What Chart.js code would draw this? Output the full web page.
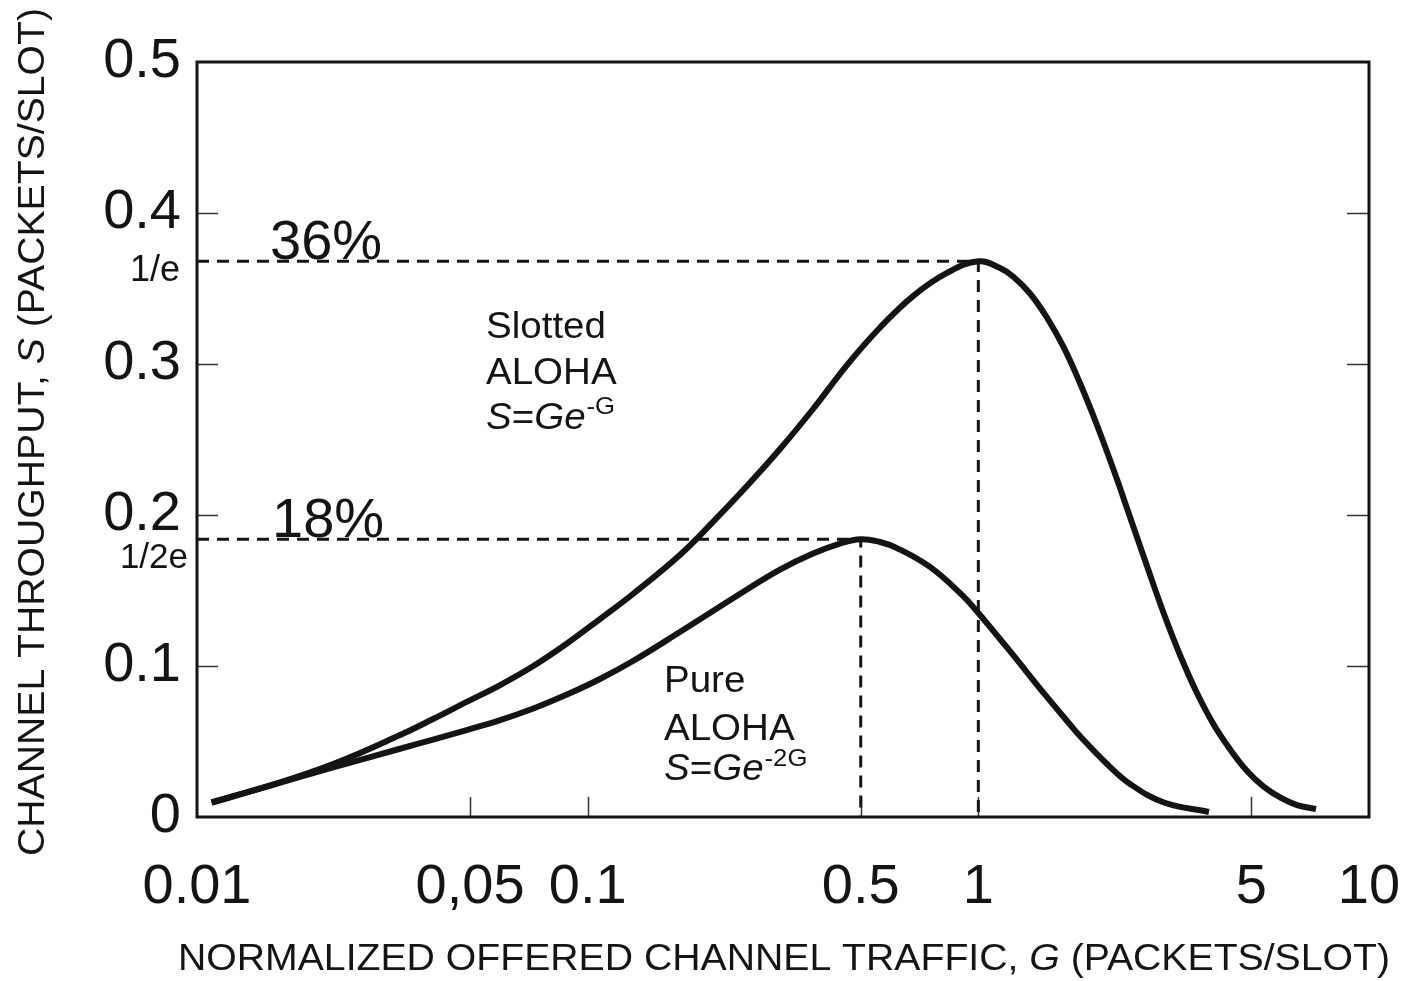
<!DOCTYPE html>
<html>
<head>
<meta charset="utf-8">
<title>ALOHA throughput</title>
<script src="https://cdn.jsdelivr.net/npm/chart.js@4/dist/chart.umd.min.js"></script>
<style>
  html, body { margin: 0; padding: 0; background: #ffffff; }
  canvas { display: block; }
</style>
</head>
<body>
<canvas id="chart" width="1413" height="981"></canvas>
<script>
// Offered traffic G and throughput S, slotted ALOHA
const G_SLOTTED = [0.0109, 0.0151, 0.0223, 0.0331, 0.0402, 0.049, 0.0597, 0.0726, 0.0885, 0.1075,
  0.1306, 0.1722, 0.2093, 0.2557, 0.3107, 0.3775, 0.4611, 0.5603, 0.6806, 0.8315, 1.0,
  1.136, 1.227, 1.356, 1.498, 1.652, 1.82, 2.012, 2.225, 2.445, 2.702,
  2.987, 3.283, 3.628, 4.01, 4.422, 4.873, 5.385, 5.954, 6.543, 7.316];
const S_SLOTTED = [0.0096, 0.0202, 0.0351, 0.0543, 0.0649, 0.0762, 0.0874, 0.1, 0.1149, 0.1311,
  0.1477, 0.1735, 0.1954, 0.2192, 0.2437, 0.2702, 0.2993, 0.3242, 0.345, 0.3603, 0.368,
  0.3636, 0.358, 0.3467, 0.3308, 0.3113, 0.2874, 0.2596, 0.2291, 0.1987, 0.1662,
  0.1344, 0.1073, 0.0821, 0.0609, 0.0444, 0.0305, 0.0199, 0.0126, 0.0079, 0.0053];

// Offered traffic G and throughput S, pure ALOHA
const G_PURE = [0.0109, 0.0151, 0.0223, 0.0331, 0.0402, 0.049, 0.0597, 0.0726, 0.0885, 0.1075,
  0.1306, 0.1722, 0.2093, 0.2557, 0.3107, 0.3775, 0.4424, 0.5, 0.5603, 0.6191,
  0.752, 0.9135, 1.0, 1.136, 1.227, 1.498, 1.687, 1.82, 2.135, 2.445, 2.987, 3.894];
const S_PURE = [0.0096, 0.0202, 0.0328, 0.0452, 0.0513, 0.0576, 0.0642, 0.0719, 0.0811, 0.0914,
  0.1033, 0.1225, 0.1364, 0.1507, 0.1639, 0.1745, 0.1811, 0.184, 0.1821, 0.1781,
  0.1656, 0.1464, 0.1351, 0.1179, 0.1073, 0.0795, 0.0636, 0.0536, 0.0351, 0.0219, 0.0096, 0.0033];

// Maxima: 1/e at G = 1, 1/2e at G = 0.5
const PEAK_SLOTTED = { g: 1, s: 0.368 };
const PEAK_PURE = { g: 0.5, s: 0.184 };

// Axes
const X_MIN = 0.01, X_MAX = 10;
const Y_MIN = 0, Y_MAX = 0.5;
const X_TICKS = [0.01, 0.05, 0.1, 0.5, 1, 5, 10];
const X_TICK_LABELS = ['0.01', '0,05', '0.1', '0.5', '1', '5', '10'];
const Y_TICKS = [0, 0.1, 0.2, 0.3, 0.4, 0.5];
const Y_TICK_LABELS = ['0', '0.1', '0.2', '0.3', '0.4', '0.5'];

const FAMILY = '"Liberation Sans", Arial, Helvetica, sans-serif';
const INK = '#141414';

const toPoints = (xs, ys) => xs.map((x, i) => ({ x: x, y: ys[i] }));
const guide = (peak) => [{ x: X_MIN, y: peak.s }, { x: peak.g, y: peak.s }, { x: peak.g, y: Y_MIN }];

// Text runs with mixed fonts and an optional horizontal stretch sx
function runsWidth(ctx, runs) {
  let w = 0;
  for (const r of runs) { ctx.font = r.font; w += ctx.measureText(r.t).width; }
  return w;
}
function drawRuns(ctx, runs, x, y, sx) {
  let cx = x;
  for (const r of runs) {
    ctx.font = r.font;
    const w = ctx.measureText(r.t).width;
    ctx.save();
    ctx.translate(cx + (r.dx || 0), y - (r.rise || 0));
    ctx.scale(sx, 1);
    ctx.fillText(r.t, 0, 0);
    ctx.restore();
    cx += w * sx + (r.dx || 0);
  }
}
const f = (size, style) => (style ? style + ' ' : '') + size + 'px ' + FAMILY;

const decorations = {
  id: 'decorations',
  beforeDatasetsDraw(chart) {
    const { ctx, chartArea: a, scales: { x, y } } = chart;
    ctx.save();
    // inward tick marks
    ctx.strokeStyle = '#333';
    ctx.lineWidth = 1.5;
    ctx.beginPath();
    Y_TICKS.filter(v => v > Y_MIN && v < Y_MAX).forEach(v => {
      const py = Math.round(y.getPixelForValue(v)) + 0.5;
      ctx.moveTo(a.left, py); ctx.lineTo(a.left + 21, py);
      ctx.moveTo(a.right, py); ctx.lineTo(a.right - 22, py);
    });
    X_TICKS.filter(v => v > X_MIN && v < X_MAX).forEach(v => {
      const px = Math.round(x.getPixelForValue(v)) + 0.5;
      ctx.moveTo(px, a.bottom); ctx.lineTo(px, a.bottom - 20);
    });
    ctx.stroke();
    ctx.restore();
  },
  afterDraw(chart) {
    const { ctx, chartArea: a, scales: { x, y } } = chart;
    ctx.save();
    // frame
    ctx.strokeStyle = INK;
    ctx.lineWidth = 3;
    ctx.strokeRect(a.left, a.top, a.right - a.left, a.bottom - a.top);

    ctx.fillStyle = INK;
    ctx.textBaseline = 'alphabetic';
    ctx.textAlign = 'left';

    // peak percentages
    const ySl = y.getPixelForValue(PEAK_SLOTTED.s);
    const yPu = y.getPixelForValue(PEAK_PURE.s);
    drawRuns(ctx, [{ t: '36%', font: f(56) }], a.left + 73, ySl - 2, 1);
    drawRuns(ctx, [{ t: '18%', font: f(56) }], a.left + 75, yPu - 2, 1);

    // 1/e and 1/2e markers on the throughput axis
    const r1 = [{ t: '1/e', font: f(36) }];
    drawRuns(ctx, r1, a.left - 17 - runsWidth(ctx, r1), ySl + 20, 1);
    const r2 = [{ t: '1/2e', font: f(35) }];
    drawRuns(ctx, r2, a.left - 9 - runsWidth(ctx, r2), yPu + 29, 1);

    // curve annotations
    const SX = 1.07;
    drawRuns(ctx, [{ t: 'Slotted', font: f(36) }], 486, 338, SX);
    drawRuns(ctx, [{ t: 'ALOHA', font: f(36) }], 486, 384, SX);
    drawRuns(ctx, [
      { t: 'S', font: f(36, 'italic') },
      { t: '=', font: f(36) },
      { t: 'Ge', font: f(36, 'italic') },
      { t: '-G', font: f(24), rise: 15, dx: 1 }
    ], 486, 429, SX);

    drawRuns(ctx, [{ t: 'Pure', font: f(36) }], 664, 692, SX);
    drawRuns(ctx, [{ t: 'ALOHA', font: f(36) }], 664, 740, SX);
    drawRuns(ctx, [
      { t: 'S', font: f(36, 'italic') },
      { t: '=', font: f(36) },
      { t: 'Ge', font: f(36, 'italic') },
      { t: '-2G', font: f(24), rise: 14, dx: 1 }
    ], 664, 780, SX);

    // axis titles (condensed lettering)
    const xTitle = [
      { t: 'NORMALIZED OFFERED CHANNEL TRAFFIC, ', font: f(37) },
      { t: 'G', font: f(37, 'italic') },
      { t: ' (PACKETS/SLOT)', font: f(37) }
    ];
    drawRuns(ctx, xTitle, 178, 970, 1212 / runsWidth(ctx, xTitle));

    const yTitle = [
      { t: 'CHANNEL THROUGHPUT, ', font: f(36) },
      { t: 'S', font: f(36, 'italic') },
      { t: ' (PACKETS/SLOT)', font: f(36) }
    ];
    const yScaleX = 848 / runsWidth(ctx, yTitle);
    ctx.save();
    ctx.translate(44, 856);
    ctx.rotate(-Math.PI / 2);
    drawRuns(ctx, yTitle, 0, 0, yScaleX);
    ctx.restore();

    ctx.restore();
  }
};

const curveStyle = {
  borderColor: INK, borderWidth: 6, pointRadius: 0, fill: false,
  tension: 0.4, borderCapStyle: 'butt', borderJoinStyle: 'round'
};
const guideStyle = {
  borderColor: INK, borderWidth: 3, pointRadius: 0, fill: false,
  tension: 0, borderDash: [12, 8], borderCapStyle: 'butt'
};

new Chart(document.getElementById('chart'), {
  type: 'line',
  data: {
    datasets: [
      Object.assign({ label: 'Slotted ALOHA', data: toPoints(G_SLOTTED, S_SLOTTED), order: 1 }, curveStyle),
      Object.assign({ label: 'Pure ALOHA', data: toPoints(G_PURE, S_PURE), order: 2 }, curveStyle),
      Object.assign({ label: '1/e', data: guide(PEAK_SLOTTED), order: 3 }, guideStyle),
      Object.assign({ label: '1/2e', data: guide(PEAK_PURE), order: 4 }, guideStyle)
    ]
  },
  options: {
    responsive: false,
    animation: false,
    devicePixelRatio: 1,
    layout: { padding: { top: 62, right: 44, left: 0, bottom: 0 } },
    plugins: { legend: { display: false }, tooltip: { enabled: false } },
    scales: {
      x: {
        type: 'logarithmic',
        min: X_MIN, max: X_MAX,
        grid: { display: false, drawTicks: false },
        border: { display: false },
        afterFit: (s) => { s.height = 164; s.paddingLeft = 0; s.paddingRight = 0; },
        afterBuildTicks: (s) => { s.ticks = X_TICKS.map(v => ({ value: v })); },
        ticks: {
          autoSkip: false, maxRotation: 0, minRotation: 0, padding: 37,
          color: INK, font: { family: FAMILY, size: 56 },
          callback: (v) => { const i = X_TICKS.indexOf(v); return i >= 0 ? X_TICK_LABELS[i] : ''; }
        }
      },
      y: {
        type: 'linear',
        min: Y_MIN, max: Y_MAX,
        grid: { display: false, drawTicks: false },
        border: { display: false },
        afterFit: (s) => { s.width = 197; s.paddingTop = 0; s.paddingBottom = 0; },
        afterBuildTicks: (s) => { s.ticks = Y_TICKS.map(v => ({ value: v })); },
        ticks: {
          padding: 16, color: INK, font: { family: FAMILY, size: 56 },
          callback: (v) => { const i = Y_TICKS.indexOf(v); return i >= 0 ? Y_TICK_LABELS[i] : ''; }
        }
      }
    }
  },
  plugins: [decorations]
});
</script>
</body>
</html>
